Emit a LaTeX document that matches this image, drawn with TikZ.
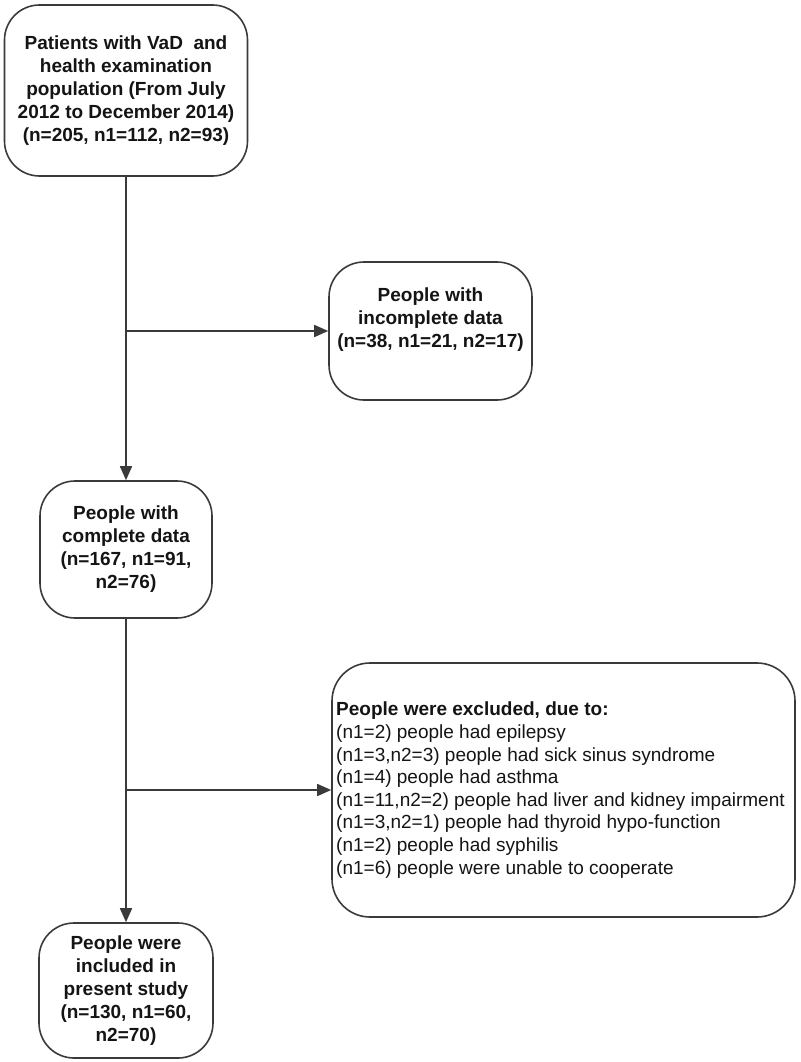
\documentclass[tikz,border=0pt]{standalone}
\usepackage{fontspec}
\setmainfont{Liberation Sans}
\usetikzlibrary{arrows.meta}
\definecolor{linec}{HTML}{3A3A3A}
\definecolor{txt}{HTML}{141414}
\begin{document}
\begin{tikzpicture}[x=1pt,y=-1pt,
  box/.style={draw=linec, line width=1.6pt, rounded corners=35pt, align=center,
    font=\bfseries\fontsize{19}{23}\selectfont, text=txt, inner sep=0pt},
  lbl/.style={align=center, font=\bfseries\fontsize{19}{23}\selectfont, text=txt, inner sep=0pt},
  arr/.style={draw=linec, line width=1.6pt, -{Triangle[length=14pt,width=12pt]}}]
\path[use as bounding box] (0,0) rectangle (800,1062);

\node[box, minimum width=243pt, minimum height=171pt] (n1) at (126,90.5)
  {Patients with VaD\ \ and\\health examination\\population (From July\\2012 to December 2014)\\(n=205, n1=112, n2=93)};

\node[box, minimum width=203pt, minimum height=138pt] (n2) at (430.5,331) {};
\node[lbl] (n2t) at (430.5,320) {People with\\incomplete data\\(n=38, n1=21, n2=17)};

\node[box, minimum width=172pt, minimum height=137pt] (n3) at (126,549.5)
  {People with\\complete data\\(n=167, n1=91,\\n2=76)};

\node[box, minimum width=463pt, minimum height=254pt, rounded corners=38pt] (n4) at (563.5,790) {};
\node[anchor=west, align=left, inner sep=0pt, text=txt, font=\fontsize{19}{22.6}\selectfont] (n4t) at (336,790)
  {\textbf{People were excluded, due to:}\\
   (n1=2) people had epilepsy\\
   (n1=3,n2=3) people had sick sinus syndrome\\
   (n1=4) people had asthma\\
   (n1=11,n2=2) people had liver and kidney impairment\\
   (n1=3,n2=1) people had thyroid hypo-function\\
   (n1=2) people had syphilis\\
   (n1=6) people were unable to cooperate};

\node[box, minimum width=174pt, minimum height=135pt] (n5) at (126,990.5)
  {People were\\included in\\present study\\(n=130, n1=60,\\n2=70)};

\coordinate (b1) at (126,331);
\coordinate (b2) at (126,790);
\draw[arr] (n1) -- (n3);
\draw[arr] (b1) -- (n2.west);
\draw[arr] (n3) -- (n5);
\draw[arr] (b2) -- (n4.west);
\end{tikzpicture}
\end{document}
